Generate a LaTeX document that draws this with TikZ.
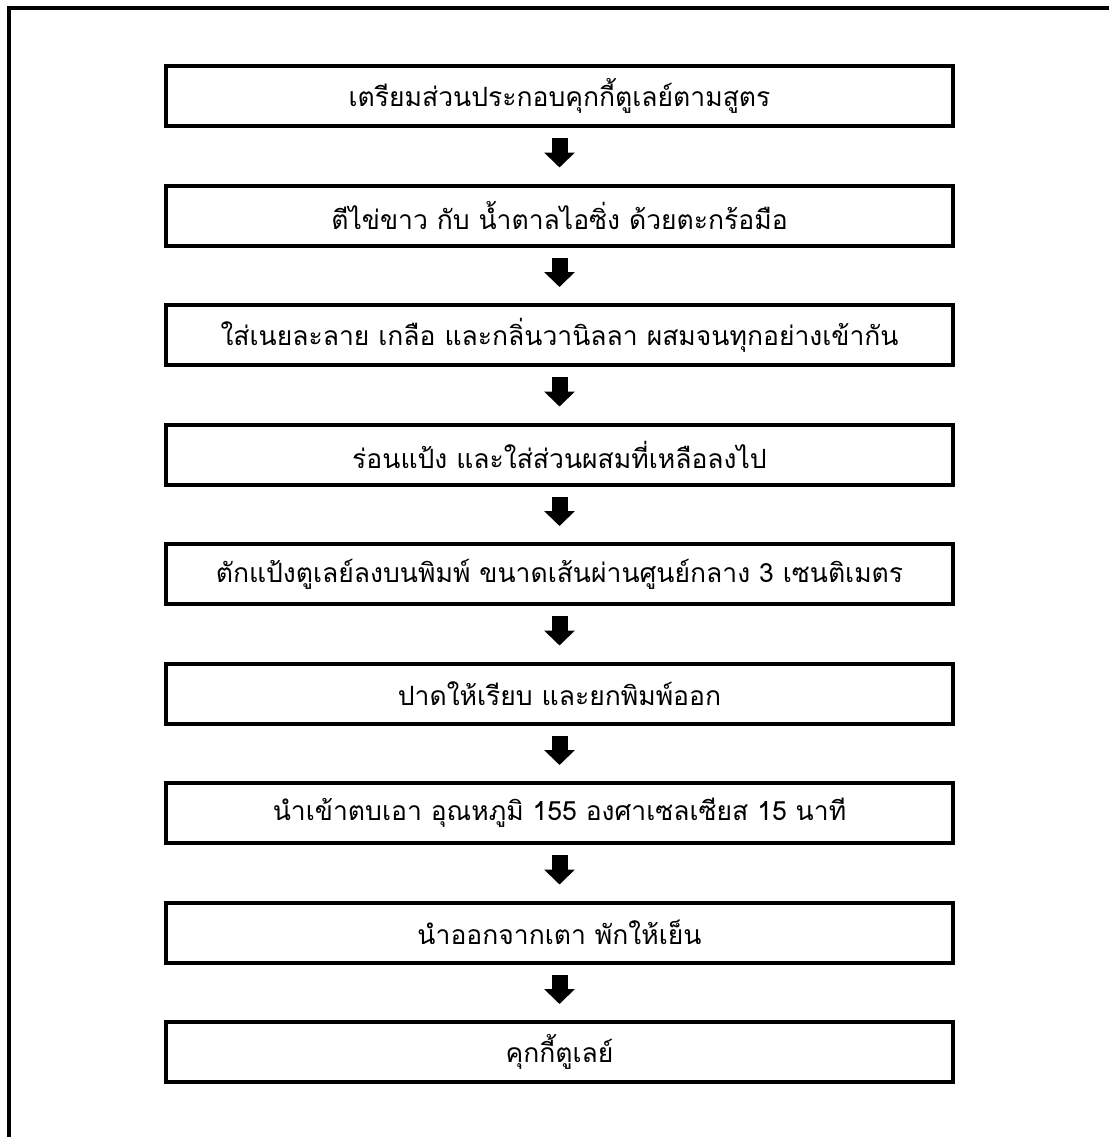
\documentclass[tikz,border=0pt]{standalone}
\usepackage{fontspec}
\newfontfamily\thaifont[Script=Thai]{Loma}
\usetikzlibrary{arrows.meta}
\tikzset{
  stepbox/.style={draw, line width=4pt, rectangle, minimum width=787pt,
    minimum height=60pt, inner sep=0pt, font=\thaifont\fontsize{26.5}{30}\selectfont},
  flowarrow/.style={line width=16pt, -{Triangle[width=30pt,length=15pt]},
    shorten <=10pt, shorten >=16pt},
}
\begin{document}
\begin{tikzpicture}[x=1pt,y=-1pt]
  \useasboundingbox (0,0) rectangle (1109,1137);
  % page frame (top and left edges)
  \draw[line width=4pt] (8.5,1137) -- (8.5,8.5) -- (1109,8.5);
  % process steps
  \node[stepbox] (s1) at (559.5,96)    {เตรียมส่วนประกอบคุกกี้ตูเลย์ตามสูตร};
  \node[stepbox] (s2) at (559.5,215.5) {ตีไข่ขาว กับ น้ำตาลไอซิ่ง ด้วยตะกร้อมือ};
  \node[stepbox] (s3) at (559.5,335)   {ใส่เนยละลาย เกลือ และกลิ่นวานิลลา ผสมจนทุกอย่างเข้ากัน};
  \node[stepbox] (s4) at (559.5,454.5) {ร่อนแป้ง และใส่ส่วนผสมที่เหลือลงไป};
  \node[stepbox] (s5) at (559.5,574)   {ตักแป้งตูเลย์ลงบนพิมพ์ ขนาดเส้นผ่านศูนย์กลาง 3 เซนติเมตร};
  \node[stepbox] (s6) at (559.5,693.5) {ปาดให้เรียบ และยกพิมพ์ออก};
  \node[stepbox] (s7) at (559.5,813)   {นำเข้าตบเอา อุณหภูมิ 155 องศาเซลเซียส 15 นาที};
  \node[stepbox] (s8) at (559.5,932.5) {นำออกจากเตา พักให้เย็น};
  \node[stepbox] (s9) at (559.5,1052)  {คุกกี้ตูเลย์};
  % arrows between steps
  \foreach \a/\b in {s1/s2,s2/s3,s3/s4,s4/s5,s5/s6,s6/s7,s7/s8,s8/s9}
    \draw[flowarrow] (\a.south) -- (\b.north);
\end{tikzpicture}
\end{document}
